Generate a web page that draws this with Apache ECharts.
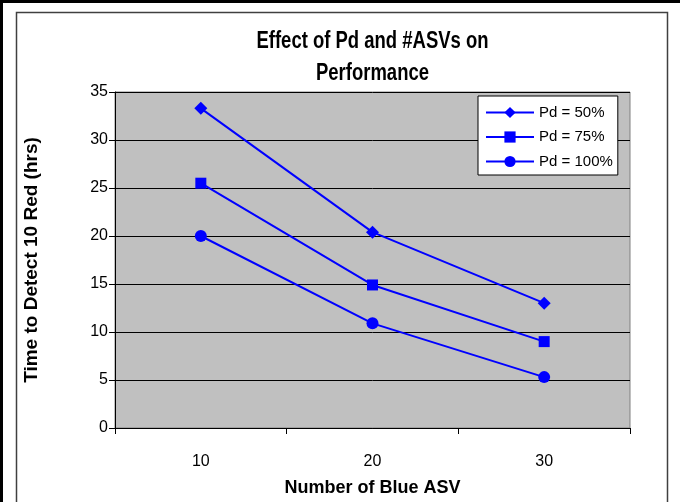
<!DOCTYPE html>
<html>
<head>
<meta charset="utf-8">
<script src="https://cdn.jsdelivr.net/npm/echarts@6/dist/echarts.min.js"></script>
<style>
html,body{margin:0;padding:0;background:#fff;}
#chart{width:680px;height:502px;}
</style>
</head>
<body>
<div id="chart"></div>
<script>
var categories = ['10', '20', '30'];
var pd50 = [33.3, 20.4, 13.0];
var pd75 = [25.5, 14.9, 9.0];
var pd100 = [20.0, 10.9, 5.3];
var seriesNames = ['Pd = 50%', 'Pd = 75%', 'Pd = 100%'];
var titleLines = ['Effect of Pd and #ASVs on', 'Performance'];

var FONT = '"Liberation Sans", Arial, sans-serif';
var chart = echarts.init(document.getElementById('chart'));

function mk(name, data, symbol, size) {
  return {
    name: name, type: 'line', data: data,
    symbol: symbol, symbolSize: size,
    lineStyle: {color: '#0000FF', width: 2},
    itemStyle: {color: '#0000FF'},
    emphasis: {disabled: true},
    animation: false
  };
}

function titleText(str, cy) {
  return {
    type: 'text', z: 100, silent: true,
    x: 372.5, y: cy, scaleX: 0.84, scaleY: 1.1,
    style: {text: str, fontFamily: FONT, fontSize: 22, fontWeight: 'bold', fill: '#000',
            textAlign: 'center', textVerticalAlign: 'middle', align: 'center', verticalAlign: 'middle'}
  };
}

chart.setOption({
  animation: false,
  backgroundColor: '#ffffff',
  grid: {
    left: 115, right: 50, top: 92, bottom: 67,
    show: true, backgroundColor: '#C0C0C0', borderColor: '#808080', borderWidth: 1
  },
  legend: {
    orient: 'vertical',
    left: 478, top: 96,
    backgroundColor: '#ffffff', borderColor: '#000', borderWidth: 1,
    padding: [9, 5, 6, 7],
    itemWidth: 48, itemHeight: 14, itemGap: 9.5,
    textStyle: {fontFamily: FONT, fontSize: 15, color: '#000'},
    data: seriesNames
  },
  xAxis: {
    type: 'category', data: categories, boundaryGap: true,
    name: 'Number of Blue ASV', nameLocation: 'middle', nameGap: 51,
    nameTextStyle: {fontFamily: FONT, fontSize: 18, fontWeight: 'bold', color: '#000'},
    axisLine: {show: true, lineStyle: {color: '#000', width: 1}},
    axisTick: {show: true, length: 6, lineStyle: {color: '#000'}},
    axisLabel: {margin: 26, fontFamily: FONT, fontSize: 16, color: '#000'},
    splitLine: {show: false}
  },
  yAxis: {
    type: 'value', min: 0, max: 35, interval: 5,
    name: 'Time to Detect 10 Red (hrs)', nameLocation: 'middle', nameGap: 74, nameRotate: 90,
    nameTextStyle: {fontFamily: FONT, fontSize: 19, fontWeight: 'bold', color: '#000'},
    axisLine: {show: true, lineStyle: {color: '#000', width: 1}},
    axisTick: {show: true, length: 6, lineStyle: {color: '#000'}},
    axisLabel: {margin: 7, fontFamily: FONT, fontSize: 16, color: '#000'},
    splitLine: {show: true, lineStyle: {color: '#000', width: 1}}
  },
  graphic: [
    {type: 'rect', z: 100, silent: true, shape: {x: 1.5, y: 1.5, width: 720, height: 600},
     style: {fill: 'none', stroke: '#000', lineWidth: 3}},
    {type: 'rect', z: 100, silent: true, shape: {x: 16.5, y: 12.5, width: 651, height: 600},
     style: {fill: 'none', stroke: '#404040', lineWidth: 1.5}},
    titleText(titleLines[0], 41),
    titleText(titleLines[1], 73)
  ],
  series: [
    mk(seriesNames[0], pd50, 'diamond', 13),
    mk(seriesNames[1], pd75, 'rect', 11),
    mk(seriesNames[2], pd100, 'circle', 12)
  ]
});
</script>
</body>
</html>
